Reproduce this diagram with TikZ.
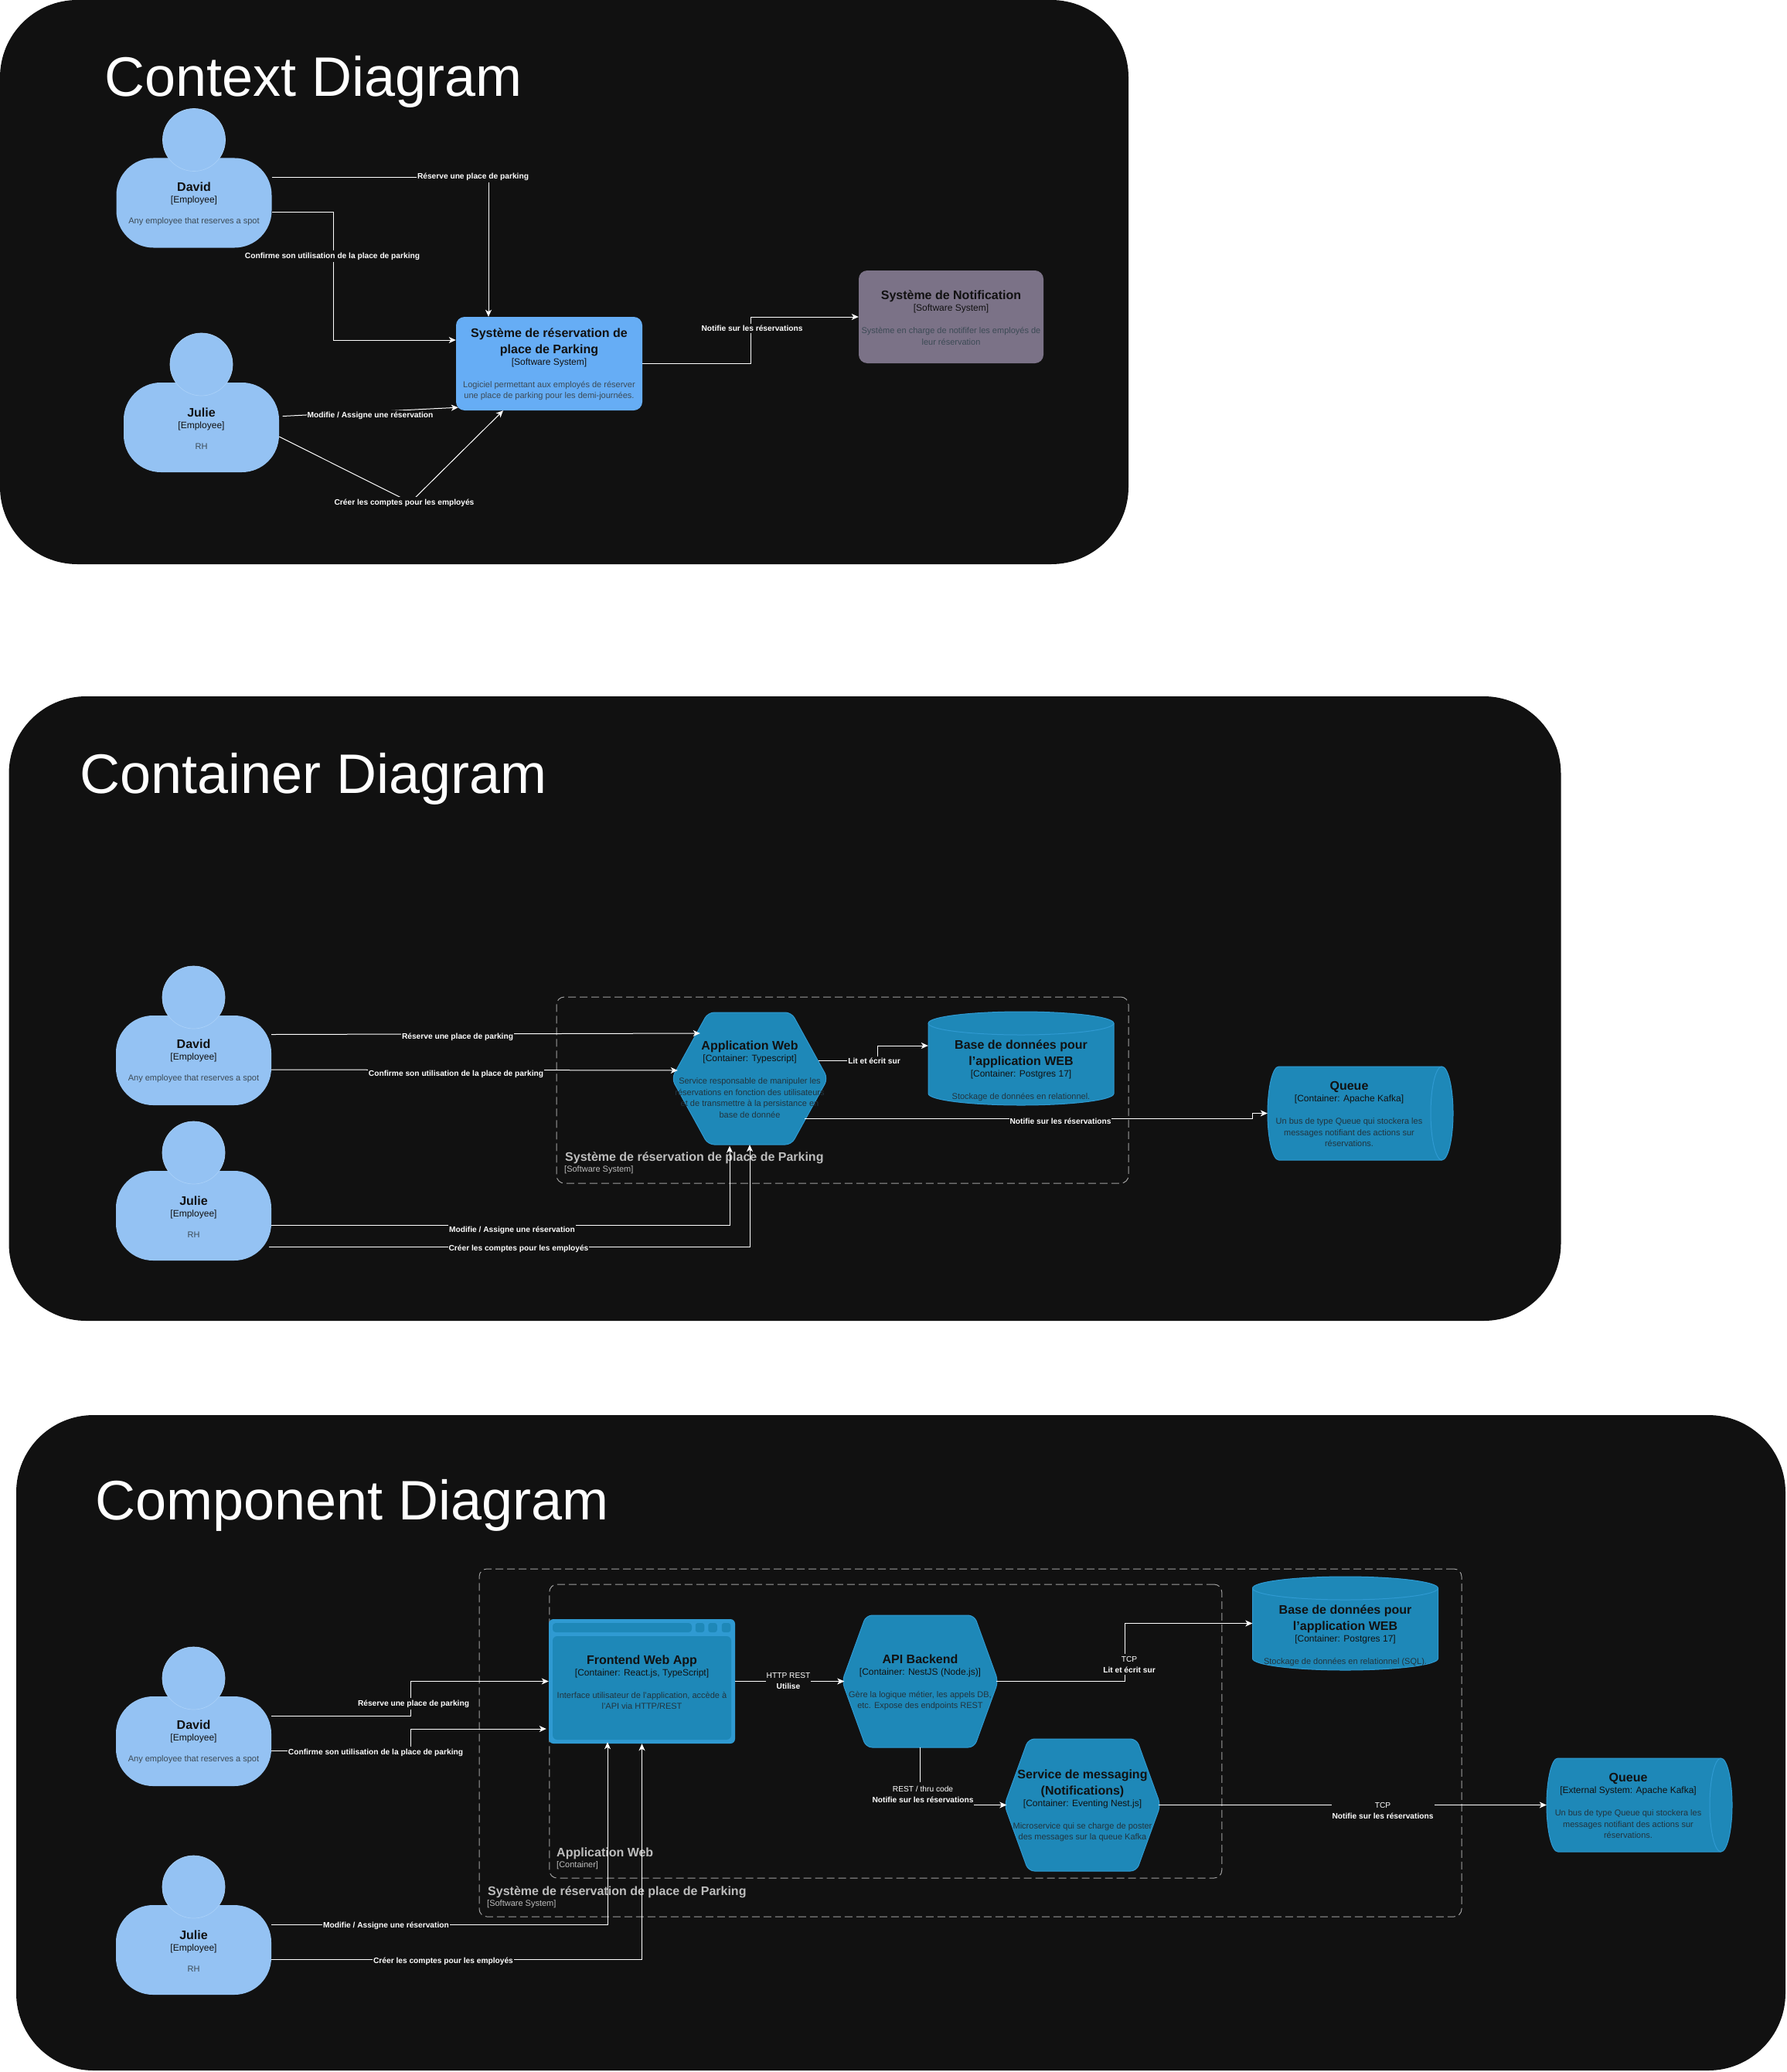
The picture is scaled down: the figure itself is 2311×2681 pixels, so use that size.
\documentclass[tikz,border=0pt]{standalone}
\usepackage{fontspec}
\setmainfont{Liberation Sans}
\usetikzlibrary{arrows.meta}
\definecolor{panelbg}{HTML}{111111}
\definecolor{personfill}{HTML}{94C2F3}
\definecolor{personedge}{HTML}{A9D0F8}
\definecolor{sysfill}{HTML}{66ADF5}
\definecolor{notiffill}{HTML}{7B7287}
\definecolor{contfill}{HTML}{1E88B8}
\definecolor{contedge}{HTML}{2F9AD2}
\definecolor{boundline}{HTML}{A0A0A0}
\definecolor{boundtext}{HTML}{BDBDBD}
\definecolor{desctext}{HTML}{3C4A55}
\definecolor{contdesc}{HTML}{22343E}
\newcommand{\bname}{\fontsize{16}{14.5}\selectfont\bfseries}
\newcommand{\bfirst}{\rule{0pt}{14pt}\bname}
\newcommand{\btype}{\fontsize{12}{14.5}\selectfont}
\newcommand{\bdesc}{\fontsize{11}{14.5}\selectfont\color{desctext}}
\newcommand{\cdesc}{\fontsize{11}{14.5}\selectfont\color{contdesc}}
\newcommand{\person}[5]{
	\node[personbody] (#1) at (#2,#3) {\bfirst #4\\[0.5pt]\btype [Employee]\\[12.5pt]\bdesc #5};
	\node[personhead] (#1_head) at (#2,{#3-81.5}) {};
}
\newcommand{\hexnode}[7]{
	\begin{scope}[shift={(#2,#3)}]
		\draw[contshape,rounded corners=8pt] ({-#4/2+#6},{-#5/2}) -- ({#4/2-#6},{-#5/2}) -- ({#4/2+3},0) -- ({#4/2-#6},{#5/2}) -- ({-#4/2+#6},{#5/2}) -- ({-#4/2-3},0) -- cycle;
	\end{scope}
	\node[c4text,minimum width=#4pt,minimum height=#5pt] (#1) at (#2,#3) {#7};
}
\newcommand{\dbnode}[4]{
	\begin{scope}[shift={(#2,#3)}]
		\draw[contshape] (-120,-45.5) arc[start angle=180,end angle=0,x radius=120pt,y radius=15pt] -- (120,45.5) arc[start angle=0,end angle=-180,x radius=120pt,y radius=15pt] -- cycle;
		\draw[contedge] (-120,-45.5) arc[start angle=180,end angle=360,x radius=120pt,y radius=15pt];
	\end{scope}
	\node[c4text,minimum width=240pt,minimum height=121pt] (#1) at (#2,#3) {};
	\node[c4text] (#1_text) at (#2,{#3+14.5}) {#4};
}
\newcommand{\queuenode}[4]{
	\begin{scope}[shift={(#2,#3)}]
		\draw[contshape] (-105.5,-60.5) -- (105.5,-60.5) arc[start angle=90,end angle=-90,x radius=14.5pt,y radius=60.5pt] -- (-105.5,60.5) arc[start angle=270,end angle=90,x radius=14.5pt,y radius=60.5pt] -- cycle;
		\draw[contedge] (105.5,-60.5) arc[start angle=90,end angle=270,x radius=14.5pt,y radius=60.5pt];
	\end{scope}
	\node[c4text,minimum width=240pt,minimum height=121pt] (#1) at (#2,#3) {};
	\node[c4text] (#1_text) at ({#2-14.5},#3) {#4};
}
\begin{document}
\begin{tikzpicture}[
	x=1pt,
	y=-1pt,
	panel/.style={
		fill=panelbg,
		rounded corners=100pt,
		inner sep=0pt
	},
	title/.style={
		anchor=base west,
		inner sep=0pt,
		text=white,
		font=\fontsize{72}{80}\selectfont
	},
	c4text/.style={
		align=center,
		inner sep=0pt,
		text=panelbg,
		font=\fontsize{11}{14.5}\selectfont
	},
	personbody/.style={
		c4text,
		fill=personfill,
		rounded corners=48pt,
		minimum width=201pt,
		minimum height=116pt
	},
	personhead/.style={
		circle,
		fill=personfill,
		draw=personedge,
		line width=0.7pt,
		inner sep=0pt,
		minimum size=81pt
	},
	softbox/.style={
		c4text,
		rounded corners=11pt,
		minimum width=241pt,
		minimum height=121pt
	},
	contshape/.style={
		fill=contfill,
		draw=contedge,
		line width=1pt
	},
	contedge/.style={
		draw=contedge,
		line width=1pt
	},
	boundary/.style={
		draw=boundline,
		line width=1pt,
		dash pattern=on 10pt off 5pt,
		rounded corners=10pt,
		inner sep=0pt
	},
	boundname/.style={
		anchor=west,
		inner sep=0pt,
		text=boundtext,
		font=\fontsize{16}{18}\selectfont\bfseries
	},
	boundtype/.style={
		anchor=west,
		inner sep=0pt,
		text=boundtext,
		font=\fontsize{11}{13}\selectfont
	},
	flow/.style={
		draw=white,
		line width=1pt,
		-{Stealth[length=9pt,width=8pt,inset=2.5pt]}
	},
	rel/.style={
		fill=panelbg,
		text=white,
		align=center,
		inner xsep=1pt,
		inner ysep=2.5pt,
		yshift=-1.5pt,
		font=\fontsize{10.2}{14}\selectfont\bfseries
	}]

	\fill[white] (0,0) rectangle (2311,2681);
	\useasboundingbox (0,0) rectangle (2311,2681);

	\node[panel,minimum width=1460pt,minimum height=730pt] (c_panel) at (730,365) {};
	\node[panel,minimum width=2008pt,minimum height=808pt] (k_panel) at (1015.5,1305) {};
	\node[panel,minimum width=2289pt,minimum height=848pt] (p_panel) at (1165.5,2255) {};

	\node[title] (c_title) at (135.5,125) {Context Diagram};
	\node[title] (k_title) at (103.5,1026) {Container Diagram};
	\node[title] (p_title) at (123,1966) {Component Diagram};

	\person{c_david}{251}{262.5}{David}{Any employee that reserves a spot}
	\person{c_julie}{260.5}{553}{Julie}{RH}
	\node[softbox,fill=sysfill] (c_sys) at (710.5,470.5) {\bfirst Système de réservation de\\[4.5pt]\bname place de Parking\\[0.5pt]\btype [Software System]\\[14.5pt]\bdesc Logiciel permettant aux employés de réserver\\\bdesc une place de parking pour les demi-journées.};
	\node[softbox,fill=notiffill,minimum width=239pt,minimum height=120pt] (c_notif) at (1230.5,410) {\bfirst Système de Notification\\[0.5pt]\btype [Software System]\\[14.5pt]\bdesc Système en charge de notififer les employés de\\\bdesc leur réservation};

	\draw[flow] ([yshift=32.5pt]c_david.east) -| ([xshift=-78.5pt]c_sys.north);
	\draw[flow] ([yshift=-12.5pt]c_david.east) -- ++(80,0) |- ([yshift=30.5pt]c_sys.west);
	\draw[flow] ([xshift=4.5pt,yshift=14.5pt]c_julie.east) -- ([shift={(3pt,4pt)}]c_sys.south west);
	\coordinate (c_create_at) at (531,650);
	\draw[flow] ([yshift=-12pt]c_julie.east) -- (c_create_at) -- ([xshift=-59.5pt]c_sys.south);
	\draw[flow] (c_sys.east) -- ++(140,0) |- (c_notif.west);

	\node[rel] (c_reserve) at (612,227) {Réserve une place de parking};
	\node[rel] (c_confirm) at (430,330) {Confirme son utilisation de la place de parking};
	\node[rel] (c_modify) at (479,536.5) {Modifie / Assigne une réservation};
	\node[rel] (c_create) at (523,649) {Créer les comptes pour les employés};
	\node[rel] (c_notify) at (973,423.5) {Notifie sur les réservations};

	\node[boundary,minimum width=740pt,minimum height=241pt] (k_bound) at (1090,1410.5) {};
	\node[boundname] (k_bound_name) at (731,1498.5) {Système de réservation de place de Parking};
	\node[boundtype] (k_bound_type) at (730,1514) {[Software System]};
	\person{k_david}{250.5}{1372}{David}{Any employee that reserves a spot}
	\person{k_julie}{250.5}{1573}{Julie}{RH}
	\hexnode{k_web}{970}{1395.5}{196}{171}{44}{\bfirst Application Web\\[0.5pt]\btype [Container: Typescript]\\[14.5pt]\cdesc Service responsable de manipuler les\\\cdesc réservations en fonction des utilisateurs\\\cdesc et de transmettre à la persistance en\\\cdesc base de donnée}
	\dbnode{k_db}{1321}{1369.5}{\bfirst Base de données pour\\[4.5pt]\bname l'application WEB\\[0.5pt]\btype [Container: Postgres 17]\\[14.5pt]\cdesc Stockage de données en relationnel.}
	\queuenode{k_queue}{1760}{1440.5}{\bfirst Queue\\[0.5pt]\btype [Container: Apache Kafka]\\[14.5pt]\cdesc Un bus de type Queue qui stockera les\\\cdesc messages notifiant des actions sur\\\cdesc réservations.}

	\draw[flow] ([yshift=33.5pt]k_david.east) -- ([shift={(34pt,58.5pt)}]k_web.west);
	\draw[flow] ([yshift=-12pt]k_david.east) -- ([shift={(5pt,10.5pt)}]k_web.west);
	\draw[flow] ([yshift=-12pt]k_julie.east) -| ([shift={(-26pt,-1.5pt)}]k_web.south);
	\draw[flow] ([shift={(-3pt,-40pt)}]k_julie.east) -| (k_web.south);
	\draw[flow] ([shift={(-9pt,23.5pt)}]k_web.east) -- ++(76,0) |- ([yshift=16.5pt]k_db.west);
	\draw[flow] ([shift={(-27pt,-51.5pt)}]k_web.east) -- ++(579.5,0) |- (k_queue.west);

	\node[rel] (k_reserve) at (592,1340.5) {Réserve une place de parking};
	\node[rel] (k_confirm) at (590,1388) {Confirme son utilisation de la place de parking};
	\node[rel] (k_modify) at (662.5,1590) {Modifie / Assigne une réservation};
	\node[rel] (k_create) at (671,1614) {Créer les comptes pour les employés};
	\node[rel] (k_rw) at (1131,1371.5) {Lit et écrit sur};
	\node[rel] (k_notify) at (1372,1449.5) {Notifie sur les réservations};

	\node[boundary,minimum width=1271pt,minimum height=450pt] (p_sysbound) at (1255.5,2255) {};
	\node[boundary,minimum width=870pt,minimum height=380pt] (p_webbound) at (1145.75,2240) {};
	\node[boundname] (p_web_name) at (720,2398) {Application Web};
	\node[boundtype] (p_web_type) at (720,2414) {[Container]};
	\node[boundname] (p_sys_name) at (631,2448.5) {Système de réservation de place de Parking};
	\node[boundtype] (p_sys_type) at (630,2464) {[Software System]};
	\person{p_david}{250.5}{2253}{David}{Any employee that reserves a spot}
	\person{p_julie}{250.5}{2523}{Julie}{RH}
	\node[c4text,fill=contedge,rounded corners=6pt,minimum width=241pt,minimum height=161pt] (p_front) at (830.5,2175.5) {};
	\node[fill=contfill,rounded corners=4pt,inner sep=0pt,minimum width=180pt,minimum height=12pt] (p_front_bar) at (805,2106) {};
	\node[fill=contfill,rounded corners=3pt,inner sep=0pt,minimum width=11.5pt,minimum height=12pt] (p_front_b1) at (905.5,2106) {};
	\node[fill=contfill,rounded corners=3pt,inner sep=0pt,minimum width=11.5pt,minimum height=12pt] (p_front_b2) at (922,2106) {};
	\node[fill=contfill,rounded corners=3pt,inner sep=0pt,minimum width=11.5pt,minimum height=12pt] (p_front_b3) at (939.5,2106) {};
	\node[c4text,fill=contfill,rounded corners=6pt,minimum width=231pt,minimum height=134pt] (p_front_pane) at (830.5,2184) {};
	\node[c4text] (p_front_text) at (830.5,2175.5) {\bfirst Frontend Web App\\[0.5pt]\btype [Container: React.js, TypeScript]\\[14.5pt]\cdesc Interface utilisateur de l'application, accède à\\\cdesc l'API via HTTP/REST};
	\hexnode{p_api}{1190.5}{2175.5}{196}{171}{28}{\bfirst API Backend\\[0.5pt]\btype [Container: NestJS (Node.js)]\\[14.5pt]\cdesc Gère la logique métier, les appels DB,\\\cdesc etc. Expose des endpoints REST}
	\hexnode{p_msg}{1400.5}{2335.5}{196}{171}{28}{\bfirst Service de messaging\\[4.5pt]\bname (Notifications)\\[0.5pt]\btype [Container: Eventing Nest.js]\\[14.5pt]\cdesc Microservice qui se charge de poster\\\cdesc des messages sur la queue Kafka}
	\dbnode{p_db}{1740.5}{2100.5}{\bfirst Base de données pour\\[4.5pt]\bname l'application WEB\\[0.5pt]\btype [Container: Postgres 17]\\[14.5pt]\cdesc Stockage de données en relationnel (SQL).}
	\queuenode{p_queue}{2121}{2335.5}{\bfirst Queue\\[0.5pt]\btype [External System: Apache Kafka]\\[14.5pt]\cdesc Un bus de type Queue qui stockera les\\\cdesc messages notifiant des actions sur\\\cdesc réservations.}

	\draw[flow] ([yshift=33pt]p_david.east) -- ++(180,0) |- (p_front.west);
	\draw[flow] ([yshift=-12pt]p_david.east) -- ++(180,0) |- ([shift={(-3pt,-61.5pt)}]p_front.west);
	\draw[flow] ([yshift=33pt]p_julie.east) -| ([shift={(-44.5pt,2pt)}]p_front.south);
	\draw[flow] ([yshift=-12pt]p_julie.east) -| (p_front.south);
	\draw[flow] (p_front.east) -- (p_api.west);
	\draw[flow] (p_api.east) -- ++(166.5,0) |- (p_db.west);
	\draw[flow] (p_api.south) |- (p_msg.west);
	\draw[flow] (p_msg.east) -- (p_queue.west);

	\node[rel] (p_reserve) at (535,2203) {Réserve une place de parking};
	\node[rel] (p_confirm) at (486,2266) {Confirme son utilisation de la place de parking};
	\node[rel] (p_modify) at (499.5,2490) {Modifie / Assigne une réservation};
	\node[rel] (p_create) at (573.5,2536) {Créer les comptes pour les employés};
	\node[rel] (p_http) at (1020,2173) {\mdseries HTTP REST\\\bfseries Utilise};
	\node[rel] (p_tcp_db) at (1461,2152) {\mdseries TCP\\\bfseries Lit et écrit sur};
	\node[rel,inner ysep=5pt] (p_rest) at (1194,2320.5) {\mdseries REST / thru code\\\bfseries Notifie sur les réservations};
	\node[rel] (p_tcp_queue) at (1789,2341.5) {\mdseries TCP\\\bfseries Notifie sur les réservations};
\end{tikzpicture}
\end{document}
